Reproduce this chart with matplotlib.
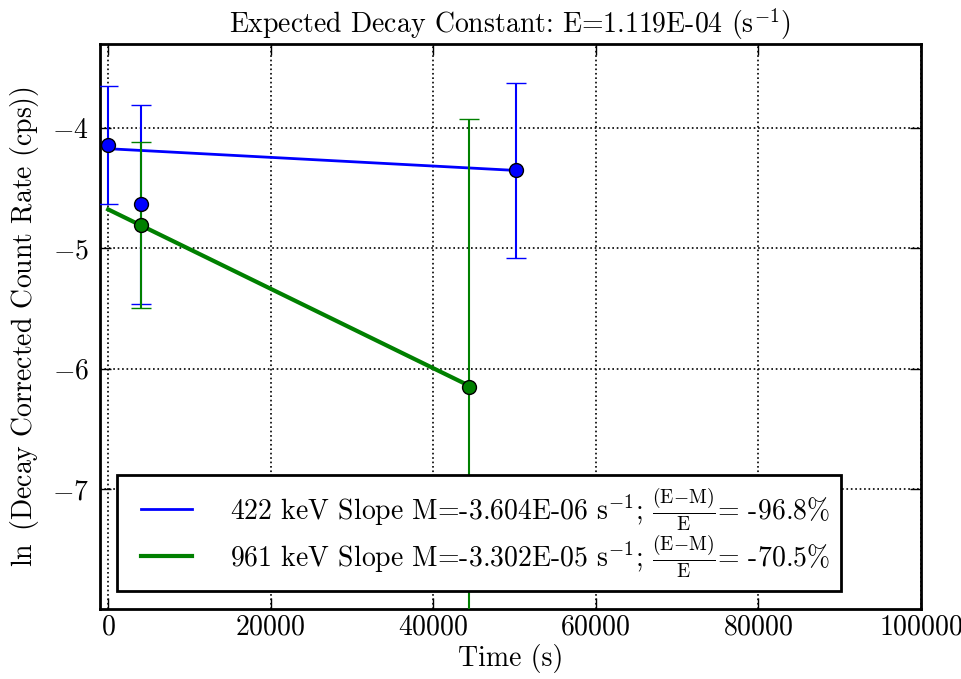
import matplotlib
matplotlib.use("Agg")
import matplotlib.pyplot as plt
from matplotlib.legend_handler import HandlerLine2D
import numpy as np

plt.rcParams['font.family'] = 'serif'
plt.rcParams['font.serif'] = ['cmr10']
plt.rcParams['mathtext.fontset'] = 'cm'
plt.rcParams['axes.formatter.use_mathtext'] = True
plt.rcParams['axes.unicode_minus'] = True

E = 1.119e-04

# 422 keV data
t_422 = [0, 4000, 50200]
y_422 = [-4.136, -4.633, -4.35]
err_422 = [0.49, 0.83, 0.73]
slope_422 = -3.604e-06
icpt_422 = -4.170
pct_422 = -96.8

# 961 keV data
t_961 = [4000, 44450]
y_961 = [-4.808, -6.156]
err_961 = [0.69, 2.23]
slope_961 = -3.302e-05
icpt_961 = -4.675
pct_961 = -70.5

xticks = [0, 20000, 40000, 60000, 80000, 100000]
yticks = [-4, -5, -6, -7]


class OffsetLineHandler(HandlerLine2D):
    """Line handle drawn with a blank lead-in on its left."""
    def get_xdata(self, legend, xdescent, ydescent, width, height, fontsize):
        x0 = -xdescent + 0.45 * fontsize
        x1 = -xdescent + width
        xd = np.array([x0, x1])
        return xd, xd


fig = plt.figure(figsize=(9.62, 6.79), dpi=100)
ax = fig.add_axes([0.104, 0.103, 0.853, 0.832])

blue = (0, 0, 1)
green = (0, 0.5, 0)

ax.errorbar(t_422, y_422, yerr=err_422, fmt='o', color=blue, ms=10, mec='k',
            mew=1, ecolor=blue, elinewidth=1.5, capsize=7, capthick=1.5, zorder=3)
ax.errorbar(t_961, y_961, yerr=err_961, fmt='o', color=green, ms=10, mec='k',
            mew=1, ecolor=green, elinewidth=1.5, capsize=7, capthick=1.5, zorder=3)

tf_422 = np.array([0, max(t_422)])
tf_961 = np.array([0, max(t_961)])
lab422 = (r"422 keV Slope M=%.3E $\mathrm{s^{-1}}$; $\frac{(\mathrm{E{-}M})}{\mathrm{E}}$= %.1f%%"
          % (slope_422, pct_422))
lab961 = (r"961 keV Slope M=%.3E $\mathrm{s^{-1}}$; $\frac{(\mathrm{E{-}M})}{\mathrm{E}}$= %.1f%%"
          % (slope_961, pct_961))
l1, = ax.plot(tf_422, icpt_422 + slope_422 * tf_422, color=blue, lw=2, label=lab422, zorder=2)
l2, = ax.plot(tf_961, icpt_961 + slope_961 * tf_961, color=green, lw=3, label=lab961, zorder=2)

ax.set_xlim(-1000, 100000)
ax.set_ylim(-8.0, -3.3)
ax.set_xticks(xticks)
ax.set_yticks(yticks)
ax.grid(True, color='k', linestyle=':', linewidth=1.2)
ax.tick_params(direction='in', top=True, right=True, length=8, width=1, labelsize=20, pad=4)
ax.tick_params(axis='y', pad=8)
for s in ax.spines.values():
    s.set_linewidth(2)

ax.set_xlabel('Time (s)', fontsize=20, labelpad=2)
ax.set_ylabel(r'$\ln$ (Decay Corrected Count Rate (cps))', fontsize=20, labelpad=8)
ax.set_title(r'Expected Decay Constant: E=%.3E $(\mathrm{s}^{-1})$' % E, fontsize=20, pad=8)

h = OffsetLineHandler()
leg = ax.legend(handles=[l1, l2], loc='lower left', bbox_to_anchor=(0.021, 0.032),
                borderaxespad=0, fontsize=20, handlelength=2.3, handletextpad=1.35,
                fancybox=False, framealpha=1, edgecolor='k', borderpad=0.4,
                labelspacing=0.0, handler_map={l1: h, l2: h})
leg.get_frame().set_linewidth(2)

fig.savefig('out.png', dpi=100)
